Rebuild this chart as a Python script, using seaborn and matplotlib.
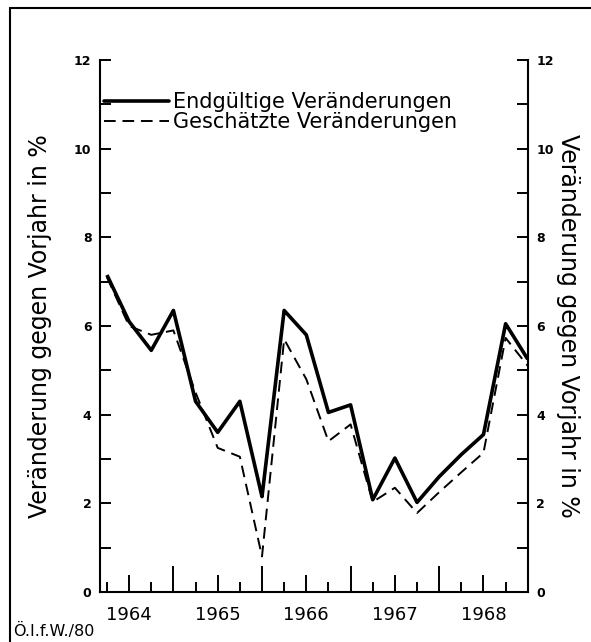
import numpy as np
import pandas as pd
import matplotlib
matplotlib.use("Agg")
import matplotlib.pyplot as plt
from matplotlib.lines import Line2D
import seaborn as sns

# quarterly values, end of quarter, 1964 Q1 .. 1968 Q4
quarters = [1964.25, 1964.5, 1964.75, 1965.0,
            1965.25, 1965.5, 1965.75, 1966.0,
            1966.25, 1966.5, 1966.75, 1967.0,
            1967.25, 1967.5, 1967.75, 1968.0,
            1968.25, 1968.5, 1968.75, 1969.0]
final_change = [7.15, 6.1, 5.45, 6.35, 4.3, 3.6, 4.3, 2.15, 6.35, 5.8,
                4.05, 4.22, 2.08, 3.02, 2.02, 2.6, 3.1, 3.55, 6.05, 5.25]
estimated_change = [7.1, 6.0, 5.8, 5.9, 4.5, 3.25, 3.05, 0.8, 5.7, 4.8,
                    3.4, 3.78, 2.03, 2.35, 1.78, 2.25, 2.7, 3.14, 5.73, 5.1]
series_names = ["Endgültige Veränderungen", "Geschätzte Veränderungen"]
year_labels = ["1964", "1965", "1966", "1967", "1968"]
ylabel = "Veränderung gegen Vorjahr in %"

df = pd.DataFrame({
    "Quartal": quarters * 2,
    "Wert": final_change + estimated_change,
    "Reihe": [series_names[0]] * len(quarters) + [series_names[1]] * len(quarters),
})

sns.set_style("ticks")
plt.rcParams["font.family"] = ["DejaVu Sans"]
plt.rcParams.update({"text.color": "black", "axes.labelcolor": "black",
                     "xtick.color": "black", "ytick.color": "black",
                     "axes.edgecolor": "black"})

fig = plt.figure(figsize=(5.91, 6.42), dpi=100)
ax = fig.add_axes([0.169, 0.078, 0.724, 0.8285])

sns.lineplot(data=df, x="Quartal", y="Wert", hue="Reihe", style="Reihe",
             palette=["black", "black"], dashes=[(1, 0), (6, 3.5)],
             size="Reihe", sizes=[2.6, 1.4], ax=ax, legend=False)

ax.set_xlim(1964.17, 1969.0)
ax.set_ylim(0, 12)

# x axis: labels at mid-year, short ticks at quarters, long ticks at year ends
years = [int(y) for y in year_labels]
ax.set_xticks([y + 0.5 for y in years])
ax.set_xticklabels(year_labels, fontsize=13)
ax.set_xticks([y + q for y in years for q in (0.25, 0.75)], minor=True)
ax.tick_params(axis="x", which="major", direction="in", length=12, width=1.4, pad=10)
ax.tick_params(axis="x", which="minor", direction="in", length=7, width=1.4)
sec = ax.secondary_xaxis("bottom")
sec.set_xticks([y + 1.0 for y in years[:-1]])
sec.tick_params(direction="in", length=19, width=1.4, labelbottom=False)
sec.spines["bottom"].set_visible(False)

# y axis on both sides
ax.set_yticks(np.arange(0, 13, 2))
ax.set_yticks(np.arange(1, 13, 2), minor=True)
ax.tick_params(axis="y", which="both", direction="in", left=True, right=True,
               labelleft=True, labelright=True, width=1.4)
ax.tick_params(axis="y", which="major", length=8, labelsize=9, pad=6)
ax.tick_params(axis="y", which="minor", length=8)
for lab in ax.get_yticklabels():
    lab.set_fontweight("bold")

ax.set_xlabel("")
ax.set_ylabel(ylabel, fontsize=17, labelpad=16)
ax.text(1.093, 0.5, ylabel, transform=ax.transAxes, rotation=270,
        ha="center", va="center", fontsize=17)

for side in ["left", "right", "bottom"]:
    ax.spines[side].set_linewidth(1.5)
ax.spines["top"].set_visible(False)

handles = [Line2D([], [], color="black", lw=2.6),
           Line2D([], [], color="black", lw=1.4, dashes=(6, 3.5))]
ax.legend(handles, series_names, loc="upper left", bbox_to_anchor=(-0.01, 0.955),
          frameon=False, fontsize=15, handlelength=3.1, handletextpad=0.2,
          labelspacing=-0.02, borderaxespad=0.0)

# page frame and source note
fig.add_artist(Line2D([0.017, 1.0], [0.987, 0.987], color="black", lw=1.5))
fig.add_artist(Line2D([0.017, 0.017], [0.0, 0.987], color="black", lw=1.5))
fig.text(0.022, 0.01, "Ö.I.f.W./80", fontsize=11.5)

fig.savefig("out.png", dpi=100)
